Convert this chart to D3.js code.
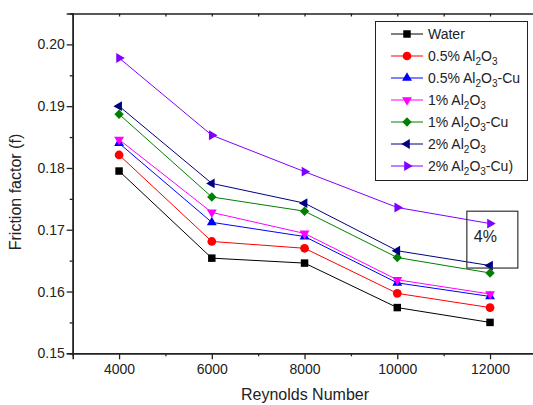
<!DOCTYPE html>
<html>
<head>
<meta charset="utf-8">
<script src="https://cdn.jsdelivr.net/npm/d3@7"></script>
<style>
  body { margin: 0; background: #fff; }
  text { font-family: "Liberation Sans", Arial, sans-serif; fill: #222; }
</style>
</head>
<body>
<script>
// reynolds numbers on x
var reynolds = [4000, 6000, 8000, 10000, 12000];

// friction factor per fluid
var water  = [0.1795, 0.1654, 0.1646, 0.1574, 0.1550];
var al05   = [0.1821, 0.1681, 0.1670, 0.1597, 0.1574];
var alcu05 = [0.1840, 0.1712, 0.1689, 0.1614, 0.1592];
var al1    = [0.1846, 0.1728, 0.1694, 0.1619, 0.1596];
var alcu1  = [0.1887, 0.1753, 0.1730, 0.1655, 0.1630];
var al2    = [0.1900, 0.1775, 0.1743, 0.1666, 0.1642];
var alcu2  = [0.1978, 0.1853, 0.1794, 0.1736, 0.1710];

var seriesNames = ["Water", "0.5% Al_2O_3", "0.5% Al_2O_3-Cu", "1% Al_2O_3",
                   "1% Al_2O_3-Cu", "2% Al_2O_3", "2% Al_2O_3-Cu)"];
var seriesValues = [water, al05, alcu05, al1, alcu1, al2, alcu2];

var xTicks = [4000, 6000, 8000, 10000, 12000];
var yTicks = [0.15, 0.16, 0.17, 0.18, 0.19, 0.20];

var colors  = ["#000000", "#ff0000", "#0000ff", "#ff00ff", "#008000", "#000080", "#8000ff"];
var shapes  = ["square", "circle", "up", "down", "diamond", "left", "right"];

var width = 533, height = 405;

var svg = d3.select("body").append("svg")
    .attr("width", width)
    .attr("height", height);

var x = d3.scaleLinear().domain([3000, 13000]).range([72.7, 536.4]);
var y = d3.scaleLinear().domain([0.15, 0.205]).range([353.3, 13.5]);

// axes
var xAxis = d3.axisBottom(x).tickValues(xTicks).tickSize(6).tickPadding(5).tickFormat(d3.format("d"));
var xMinor = d3.axisBottom(x).tickValues(d3.range(5000, 13000, 2000)).tickSize(3).tickFormat("");
var xTop = d3.axisTop(x).tickValues(d3.range(4000, 13000, 1000)).tickSize(-3).tickFormat("");
var yAxis = d3.axisLeft(y).tickValues(yTicks).tickSize(6).tickPadding(2).tickFormat(d3.format(".2f"));
var yMinor = d3.axisLeft(y).tickValues(d3.range(0.155, 0.205, 0.01)).tickSize(3).tickFormat("");

function styleAxis(g) {
    g.selectAll(".domain").attr("stroke", "#222").attr("stroke-width", 1.5);
    g.selectAll(".tick line").attr("stroke", "#222").attr("stroke-width", 1.3);
    g.selectAll(".tick text").attr("font-size", 14).attr("fill", "#222")
        .attr("font-family", "Liberation Sans, Arial, sans-serif");
}

svg.append("g").attr("transform", "translate(0,353.3)").call(xAxis).call(styleAxis);
svg.append("g").attr("transform", "translate(0,353.3)").call(xMinor).call(styleAxis);
svg.append("g").attr("transform", "translate(0,13.5)").call(xTop).call(styleAxis);
svg.append("g").attr("transform", "translate(72.7,0)").call(yAxis).call(styleAxis);
svg.append("g").attr("transform", "translate(72.7,0)").call(yMinor).call(styleAxis);

svg.append("text")
    .attr("x", 305).attr("y", 400)
    .attr("text-anchor", "middle")
    .attr("font-size", 16)
    .text("Reynolds Number");

svg.append("text")
    .attr("transform", "translate(21,192) rotate(-90)")
    .attr("text-anchor", "middle")
    .attr("font-size", 16)
    .text("Friction factor (f)");

function markerPath(shape) {
    if (shape == "square") return d3.symbol(d3.symbolSquare, 56)();
    if (shape == "circle") return d3.symbol(d3.symbolCircle, 60)();
    if (shape == "diamond") return d3.symbol(d3.symbolSquare, 44)();
    return d3.symbol(d3.symbolTriangle, 42)();
}
function markerRotate(shape) {
    return {diamond: 45, down: 180, left: -90, right: 90}[shape] || 0;
}

var line = d3.line()
    .x(function(d, i) { return x(reynolds[i]); })
    .y(function(d) { return y(d); });

seriesValues.forEach(function(vals, s) {
    svg.append("path")
        .datum(vals)
        .attr("d", line)
        .attr("fill", "none")
        .attr("stroke", colors[s])
        .attr("stroke-width", 1);

    svg.selectAll(".m" + s)
        .data(vals)
        .enter()
        .append("path")
        .attr("class", "m" + s)
        .attr("d", markerPath(shapes[s]))
        .attr("transform", function(d, i) {
            return "translate(" + x(reynolds[i]) + "," + y(d) + ") rotate(" + markerRotate(shapes[s]) + ")";
        })
        .attr("fill", colors[s]);
});

// legend
var legend = svg.append("g");
legend.append("rect")
    .attr("x", 375.5).attr("y", 21.5)
    .attr("width", 152).attr("height", 159)
    .attr("fill", "#fff")
    .attr("stroke", "#222")
    .attr("stroke-width", 1);

seriesNames.forEach(function(name, s) {
    var ly = 34 + s * 22;
    legend.append("line")
        .attr("x1", 391).attr("x2", 423)
        .attr("y1", ly).attr("y2", ly)
        .attr("stroke", colors[s]).attr("stroke-width", 1);
    legend.append("path")
        .attr("d", markerPath(shapes[s]))
        .attr("transform", "translate(407," + ly + ") rotate(" + markerRotate(shapes[s]) + ")")
        .attr("fill", colors[s]);

    var t = legend.append("text")
        .attr("x", 428).attr("y", ly + 5)
        .attr("font-size", 14);
    name.split(/_(\d)/).forEach(function(part, k) {
        if (k % 2 == 1) {
            t.append("tspan").attr("dy", 4).attr("font-size", 10).text(part);
        } else if (part.length) {
            t.append("tspan").attr("dy", k == 0 ? 0 : -4).text(part);
        }
    });
});

// annotation box at the last point
svg.append("rect")
    .attr("x", x(11500)).attr("y", y(0.1730))
    .attr("width", x(12600) - x(11500))
    .attr("height", y(0.1638) - y(0.1730))
    .attr("fill", "none")
    .attr("stroke", "#333")
    .attr("stroke-width", 1.2);

svg.append("text")
    .attr("x", x(11900)).attr("y", 242)
    .attr("text-anchor", "middle")
    .attr("font-size", 16)
    .text("4%");
</script>
</body>
</html>
